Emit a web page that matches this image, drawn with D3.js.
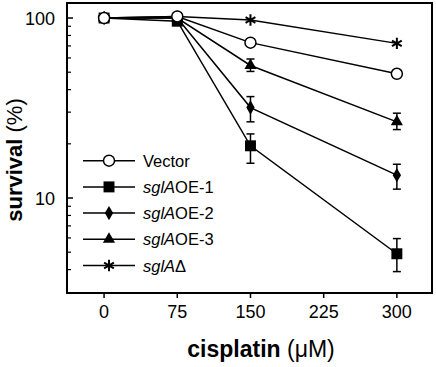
<!DOCTYPE html>
<html>
<head>
<meta charset="utf-8">
<script src="https://cdn.jsdelivr.net/npm/d3@7"></script>
<style>
  body { margin: 0; background: #fff; }
  svg { display: block; font-family: Arial, "Liberation Sans", Helvetica, sans-serif; }
</style>
</head>
<body>
<div id="chart"></div>
<script>
// Cisplatin doses and survival values (%).
const doses = [0, 75, 150, 300];
const xTicks = [0, 75, 150, 225, 300];
const yLabelTicks = [10, 100];
const yMinorTicks = [4, 5, 6, 7, 8, 9, 20, 30, 40, 50, 60, 70, 80, 90];

const vector = [100, 102, 73, 49];
const oe1 = [100, 96, 19.5, 4.9];
const oe1Lo = [null, null, 15.6, 3.9];
const oe1Hi = [null, null, 22.7, 5.95];
const oe2 = [100, 100, 31.8, 13.4];
const oe2Lo = [null, null, 26.5, 11.2];
const oe2Hi = [null, null, 36.6, 15.4];
const oe3 = [100, 100, 54.5, 26.5];
const oe3Lo = [null, null, 50.5, 24.0];
const oe3Hi = [null, null, 59.2, 29.6];
const delta = [100, 102, 97.5, 72.3];

const series = [
    {name: 'delta', label: ['sglA', 'Δ'], values: delta, lo: null, hi: null, symbol: 'asterisk'},
    {name: 'oe3', label: ['sglA', 'OE-3'], values: oe3, lo: oe3Lo, hi: oe3Hi, symbol: 'triangle'},
    {name: 'oe2', label: ['sglA', 'OE-2'], values: oe2, lo: oe2Lo, hi: oe2Hi, symbol: 'diamond'},
    {name: 'oe1', label: ['sglA', 'OE-1'], values: oe1, lo: oe1Lo, hi: oe1Hi, symbol: 'square'},
    {name: 'vector', label: [null, 'Vector'], values: vector, lo: null, hi: null, symbol: 'circle'}
];
const legendOrder = ['vector', 'oe1', 'oe2', 'oe3', 'delta'];

// Set the dimensions and margins.
const width = 436, height = 367;
const margin = {top: 3, right: 4, bottom: 74, left: 67};
const innerW = width - margin.left - margin.right;
const innerH = height - margin.top - margin.bottom;

const svg = d3.select('#chart')
    .append('svg')
        .attr('width', width)
        .attr('height', height);
const g = svg.append('g')
    .attr('transform', `translate(${margin.left},${margin.top})`);

// Scales.
const x = d3.scaleLinear().domain([-38, 336]).range([0, innerW]);
const y = d3.scaleLog().domain([2.966, 121.2]).range([innerH, 0]);

// Y axis: ticks point inward.
const yAxis = g.append('g').attr('class', 'y-axis');
yAxis.selectAll('line.major')
    .data(yLabelTicks)
    .enter()
    .append('line')
        .attr('x1', 0).attr('x2', 6)
        .attr('y1', d => y(d)).attr('y2', d => y(d))
        .attr('stroke', '#000').attr('stroke-width', 1.5);
yAxis.selectAll('line.minor')
    .data(yMinorTicks)
    .enter()
    .append('line')
        .attr('x1', 0).attr('x2', 4)
        .attr('y1', d => y(d)).attr('y2', d => y(d))
        .attr('stroke', '#000').attr('stroke-width', 1.2);
yAxis.selectAll('text')
    .data(yLabelTicks)
    .enter()
    .append('text')
        .attr('x', -12)
        .attr('y', d => y(d) + 6.5)
        .attr('text-anchor', 'end')
        .style('font-size', '18px')
        .text(d => d);

// X axis: ticks point outward.
const xAxis = g.append('g').attr('transform', `translate(0,${innerH})`);
xAxis.selectAll('line')
    .data(xTicks)
    .enter()
    .append('line')
        .attr('x1', d => x(d)).attr('x2', d => x(d))
        .attr('y1', 0).attr('y2', 5)
        .attr('stroke', '#000').attr('stroke-width', 1.5);
xAxis.selectAll('text')
    .data(xTicks)
    .enter()
    .append('text')
        .attr('x', d => x(d))
        .attr('y', 25)
        .attr('text-anchor', 'middle')
        .style('font-size', '18px')
        .text(d => d);

// Frame.
g.append('rect')
    .attr('width', innerW).attr('height', innerH)
    .attr('fill', 'none').attr('stroke', '#000').attr('stroke-width', 2);

// Axis titles.
const xTitle = svg.append('text')
    .attr('x', 261).attr('y', 357)
    .attr('text-anchor', 'middle')
    .style('font-size', '23px');
xTitle.append('tspan').style('font-weight', 'bold').text('cisplatin');
xTitle.append('tspan').text(' (μM)');

const yTitle = svg.append('text')
    .attr('transform', 'translate(22,160) rotate(-90)')
    .attr('text-anchor', 'middle')
    .style('font-size', '22px');
yTitle.append('tspan').style('font-weight', 'bold').text('survival');
yTitle.append('tspan').text(' (%)');

// Marker drawing.
const symbolPaths = {
    square: d3.symbol(d3.symbolSquare, 120)(),
    diamond: d3.symbol(d3.symbolDiamond, 60)(),
    triangle: d3.symbol(d3.symbolTriangle, 64)(),
    asterisk: d3.symbol(d3.symbolAsterisk, 90)()
};
function drawMarker(sel, sym) {
    if (sym === 'circle') {
        sel.append('circle')
            .attr('r', 5.5)
            .attr('fill', '#fff')
            .attr('stroke', '#000')
            .attr('stroke-width', 1.5);
    } else if (sym === 'asterisk') {
        sel.append('path')
            .attr('d', symbolPaths[sym])
            .attr('fill', 'none')
            .attr('stroke', '#000')
            .attr('stroke-width', 2);
    } else {
        sel.append('path')
            .attr('d', symbolPaths[sym])
            .attr('fill', '#000');
    }
}

// Lines.
const line = d3.line().x((d, i) => x(doses[i])).y(d => y(d));
g.selectAll('path.series')
    .data(series)
    .enter()
    .append('path')
        .attr('d', d => line(d.values))
        .attr('fill', 'none')
        .attr('stroke', '#000')
        .attr('stroke-width', 1.5);

// Error bars.
series.filter(s => s.lo).forEach(s => {
    doses.forEach((dose, i) => {
        if (s.lo[i] == null) return;
        const eg = g.append('g').attr('stroke', '#000').attr('stroke-width', 1.5);
        const cx = x(dose);
        eg.append('line').attr('x1', cx).attr('x2', cx).attr('y1', y(s.lo[i])).attr('y2', y(s.hi[i]));
        eg.append('line').attr('x1', cx - 4).attr('x2', cx + 4).attr('y1', y(s.lo[i])).attr('y2', y(s.lo[i]));
        eg.append('line').attr('x1', cx - 4).attr('x2', cx + 4).attr('y1', y(s.hi[i])).attr('y2', y(s.hi[i]));
    });
});

// Markers.
series.forEach(s => {
    s.values.forEach((v, i) => {
        const mg = g.append('g').attr('transform', `translate(${x(doses[i])},${y(v)})`);
        drawMarker(mg, s.symbol);
    });
});

// Legend.
const legend = svg.append('g');
legendOrder.forEach((name, i) => {
    const s = series.find(d => d.name === name);
    const row = legend.append('g').attr('transform', `translate(0,${160.7 + i * 26.2})`);
    row.append('line')
        .attr('x1', 83).attr('x2', 135)
        .attr('stroke', '#000').attr('stroke-width', 1.5);
    drawMarker(row.append('g').attr('transform', 'translate(109,0)'), s.symbol);
    const t = row.append('text')
        .attr('x', 143).attr('y', 6)
        .style('font-size', '16.5px');
    if (s.label[0]) t.append('tspan').style('font-style', 'italic').text(s.label[0]);
    t.append('tspan').text(s.label[1]);
});
</script>
</body>
</html>
